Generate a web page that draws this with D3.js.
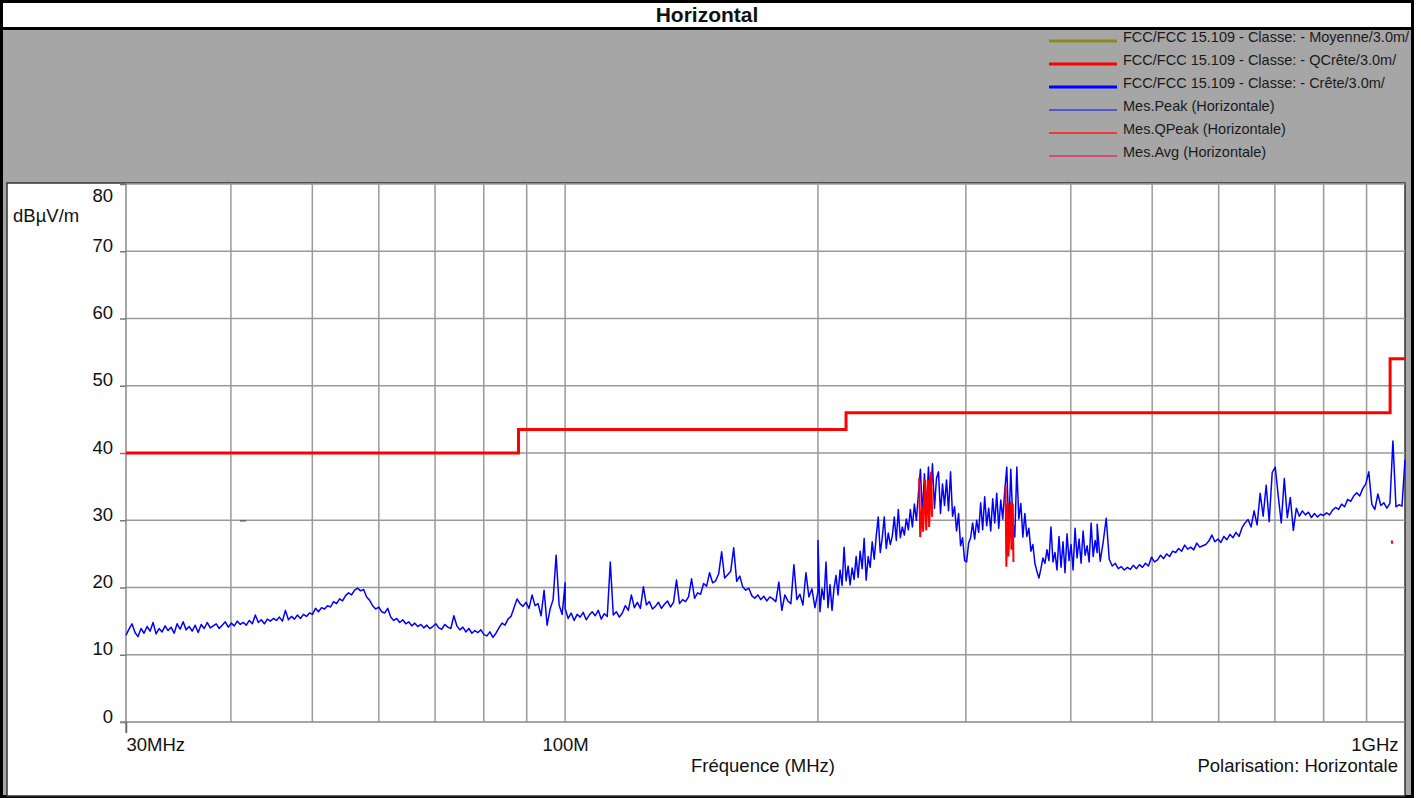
<!DOCTYPE html>
<html>
<head>
<meta charset="utf-8">
<script src="https://cdn.jsdelivr.net/npm/d3@7/dist/d3.min.js"></script>
<style>
  html, body { margin: 0; padding: 0; background: #ffffff; }
  svg { display: block; }
  text { font-family: "Liberation Sans", Arial, sans-serif; fill: #111; }
</style>
</head>
<body>
<svg id="chart" width="1421" height="798"></svg>
<script>
// ---- Data ----------------------------------------------------------------
const chartTitle = "Horizontal";
const yUnit = "dBµV/m";
const xTitle = "Fréquence (MHz)";
const polarisationNote = "Polarisation: Horizontale";

const levelTicks = [0, 10, 20, 30, 40, 50, 60, 70, 80];
const freqGrid = [40, 50, 60, 70, 80, 90, 100, 200, 300, 400, 500, 600, 700, 800, 900];
const freqTicks = [30, 100, 1000];
const freqTickLabels = ["30MHz", "100M", "1GHz"];

// FCC 15.109 quasi-peak limit at 3 m (dBµV/m)
const limitFreq  = [30, 88, 88, 216, 216, 960, 960, 1000];
const limitLevel = [40, 40, 43.5, 43.5, 46, 46, 54, 54];

// Peak sweep 30–100 MHz (dBµV/m), log-spaced sweep points
const peakBand30to100 = [
  12.9,13.8,14.6,13.3,12.7,13.9,13.2,14.2,13.5,14.8,
  13.1,13.9,13.4,14.3,13.6,14.1,13.2,14.6,13.8,14.9,
  13.7,14.2,13.5,14.4,13.3,14.5,13.9,14.8,14.0,14.3,
  14.6,13.9,14.4,14.9,14.1,14.7,14.3,15.0,14.5,14.8,
  14.4,15.1,14.6,15.9,14.8,15.2,14.6,15.3,15.0,15.4,
  15.1,15.6,15.0,16.6,15.2,15.7,15.3,15.9,15.4,16.0,
  15.7,16.2,16.0,16.9,16.4,17.0,16.8,17.3,17.1,17.9,
  17.6,18.3,18.0,18.8,19.2,18.9,19.6,19.9,19.5,19.7,
  18.6,18.1,17.3,16.8,17.1,16.4,16.2,16.9,15.6,15.1,
  15.4,14.8,15.2,14.6,14.9,14.3,14.7,14.2,14.5,14.0,
  14.4,13.9,14.2,14.6,14.0,13.8,14.5,14.1,13.9,15.8,
  14.3,13.7,14.1,13.4,13.9,13.2,13.6,13.3,13.7,13.0,
  12.8,13.4,12.6,13.2,14.0,14.7,14.4,15.3,15.7,17.0,
  18.3,17.6,17.2,17.8,16.9,18.9,17.3,17.6,15.8,19.6,
  14.4,16.8,18.2,24.8,17.4,16.0,20.7
];

// Peak sweep 100–200 MHz
const peakBand100to200 = [
  16.9,15.4,16.2,15.1,16.0,15.6,16.3,15.2,15.9,16.4,
  15.8,16.6,15.3,16.1,15.7,23.8,15.9,16.4,15.6,16.2,
  17.3,16.6,18.9,17.0,17.8,16.9,20.1,17.4,17.9,16.8,
  17.2,17.8,16.9,17.5,18.0,17.1,17.8,21.1,17.6,18.2,
  17.9,18.6,21.3,18.4,19.2,19.0,20.6,20.2,22.2,20.7,
  21.0,22.0,25.3,21.4,21.9,22.4,25.9,20.9,21.7,20.1,
  19.6,19.9,18.8,18.4,18.9,18.2,18.7,18.0,18.6,18.3,
  17.9,20.8,16.6,18.9,18.0,17.6,23.4,18.2,19.0,17.4,
  22.2,18.6,19.8,17.0,19.4
];

// Peak sweep 200–430 MHz (finer step)
const peakBand200to430 = [
  27.0,16.4,19.8,18.2,23.8,17.0,20.4,16.6,19.9,21.8,
  18.9,22.6,20.3,26.0,21.0,23.2,20.4,22.9,21.2,24.6,
  21.5,25.4,22.8,27.3,21.1,24.6,23.0,26.8,24.2,27.6,
  30.5,25.2,27.4,30.5,25.8,28.1,26.4,27.6,30.5,27.0,
  31.6,27.4,29.0,27.8,30.2,28.6,31.6,29.0,32.4,30.0,
  33.9,37.6,30.8,36.9,31.5,37.9,32.6,38.4,31.8,36.2,
  37.2,31.0,35.4,32.2,36.0,31.4,37.2,30.6,32.0,28.4,
  31.0,26.2,27.4,24.0,23.8,26.6,27.4,29.6,27.2,30.0,
  28.2,32.6,28.6,33.5,29.2,31.8,28.4,33.2,29.6,34.0,
  28.8,33.0,30.2,34.4,37.9,28.4,37.6,30.0,27.5,37.9,
  30.2,32.5,27.5,31.0,27.6,28.8,25.4,26.4,23.6,22.4,
  21.4,22.8,24.4,23.6,25.6,24.0,29.0,23.8,25.2,22.6,
  27.6,23.0,26.8,22.2,28.0,24.0,26.4,22.6,28.8,24.4,
  27.2,23.6,28.4,24.8,26.2,23.8,29.6,24.6,27.0,25.2
];

// Peak sweep 430–1000 MHz
const peakBand430to1000 = [
  29.4,23.9,26.8,30.3,24.2,23.2,
  23.6,22.8,23.1,22.6,23.0,22.7,23.3,22.8,23.4,23.0,
  23.6,23.2,24.5,23.8,24.1,24.8,24.3,25.0,24.6,25.4,
  25.2,25.8,25.4,26.3,25.7,26.0,25.6,26.6,26.0,26.2,
  26.4,26.9,27.8,26.8,27.2,26.7,27.6,27.1,27.9,27.4,
  28.2,27.6,28.9,29.6,30.1,29.0,31.4,29.3,34.0,30.6,
  35.2,29.8,37.1,37.9,33.6,29.6,36.2,30.4,33.4,28.5,
  31.8,30.6,31.4,30.8,31.2,30.4,31.0,30.5,30.9,30.7,
  31.1,30.8,31.5,31.9,31.6,32.4,32.0,33.1,32.8,33.6,
  34.1,33.6,34.7,35.4,37.2,32.4,31.6,33.9,32.2,32.6,
  31.8,32.5,41.8,32.0,32.3,32.1,39.0
];

// Quasi-peak measurements (null separates groups)
const qpeakFreq  = [264.0, 264.7, 266.1, 266.8, 268.3, 269.1, 270.5, 271.3, 272.8, 273.5, null,
                    334.5, 335.2, 336.5, 337.1, 339.3, 339.9, 341.2, 341.8, null,
                    964.0, 966.0];
const qpeakLevel = [36.3, 27.5, 32.0, 28.3, 36.0, 28.5, 36.0, 29.0, 37.2, 30.5, null,
                    35.2, 23.1, 32.5, 24.6, 32.8, 25.6, 32.5, 23.8, null,
                    27.0, 26.5];

// Short trace fragment near 41 MHz
const stubFreq  = [41.0, 41.7];
const stubLevel = [29.9, 29.9];

const legendLabels = [
  "FCC/FCC 15.109 - Classe: - Moyenne/3.0m/",
  "FCC/FCC 15.109 - Classe: - QCrête/3.0m/",
  "FCC/FCC 15.109 - Classe: - Crête/3.0m/",
  "Mes.Peak (Horizontale)",
  "Mes.QPeak (Horizontale)",
  "Mes.Avg (Horizontale)"
];
const legendColors = ["#8a8a1e", "#ff0000", "#0000ff", "#3a3ad8", "#ff1a1a", "#d8307a"];
const legendWidths = [3, 3, 3, 1.5, 1.5, 1.5];

// ---- Layout --------------------------------------------------------------
const W = 1421, H = 798;
const panel = { left: 7, top: 183, right: 1405, bottom: 796 };
const plot = { left: 126, right: 1405, top: 184, bottom: 722 };
const labelFont = "18.5px";

const svg = d3.select("#chart");

const x = d3.scaleLog().domain([30, 1000]).range([plot.left, plot.right]);
const y = d3.scaleLinear().domain([0, 80]).range([plot.bottom, plot.top]);

// page background and frame
svg.append("rect").attr("x", 0).attr("y", 0).attr("width", W).attr("height", H).attr("fill", "#ffffff");
svg.append("rect").attr("x", 2).attr("y", 29).attr("width", 1411).attr("height", 768).attr("fill", "#a6a6a6");
svg.append("rect").attr("x", 1.5).attr("y", 1.5).attr("width", 1411).attr("height", 795)
  .attr("fill", "none").attr("stroke", "#000").attr("stroke-width", 3);
svg.append("line").attr("x1", 1).attr("x2", 1413).attr("y1", 28.5).attr("y2", 28.5)
  .attr("stroke", "#000").attr("stroke-width", 3);

// title
svg.append("text").attr("x", 707).attr("y", 22).attr("text-anchor", "middle")
  .style("font-size", "21px").style("font-weight", "bold").text(chartTitle);

// plot panel
svg.append("rect").attr("x", panel.left).attr("y", panel.top)
  .attr("width", panel.right - panel.left).attr("height", panel.bottom - panel.top)
  .attr("fill", "#ffffff").attr("stroke", "#333").attr("stroke-width", 1.5);

// legend
const legend = svg.append("g").attr("class", "legend");
legendLabels.forEach((lab, i) => {
  const by = 42 + i * 23;
  legend.append("line").attr("x1", 1049).attr("x2", 1117)
    .attr("y1", by - 1).attr("y2", by - 1)
    .attr("stroke", legendColors[i]).attr("stroke-width", legendWidths[i]);
  legend.append("text").attr("x", 1123).attr("y", by)
    .style("font-size", "14.5px").style("fill", "#1a1a1a").text(lab);
});

// grid
const grid = svg.append("g").attr("class", "grid");
grid.selectAll("line.h").data(levelTicks.filter(d => d > 0)).join("line")
  .attr("x1", plot.left).attr("x2", plot.right)
  .attr("y1", d => y(d)).attr("y2", d => y(d))
  .attr("stroke", "#9a9a9a").attr("stroke-width", 1.5);
grid.selectAll("line.v").data(freqGrid).join("line")
  .attr("x1", d => x(d)).attr("x2", d => x(d))
  .attr("y1", panel.top).attr("y2", plot.bottom)
  .attr("stroke", "#9a9a9a").attr("stroke-width", 1.5);

// y axis
const yAxis = svg.append("g").attr("transform", `translate(${plot.left},0)`)
  .call(d3.axisLeft(y).tickValues(levelTicks).tickSize(6).tickPadding(7).tickFormat(d3.format("d")));
yAxis.select(".domain").attr("stroke", "#888").attr("stroke-width", 1.5).attr("d", `M0,${panel.top}V${plot.bottom + 11}`);
yAxis.selectAll(".tick line").attr("stroke", "#777").attr("stroke-width", 1.5);
yAxis.selectAll(".tick text")
  .style("font-size", labelFont).style("font-family", '"Liberation Sans", Arial, sans-serif').attr("fill", "#111")
  .attr("dy", d => d === 80 ? "17px" : "0px");

// x axis
const xAxis = svg.append("g").attr("transform", `translate(0,${plot.bottom})`)
  .call(d3.axisBottom(x).tickValues(freqTicks).tickSize(11).tickPadding(5)
    .tickFormat((d, i) => freqTickLabels[i]));
xAxis.select(".domain").attr("stroke", "#888").attr("stroke-width", 1.6).attr("d", `M${plot.left - 6},0H${plot.right}`);
xAxis.selectAll(".tick line").attr("stroke", d => d === 30 ? "#666" : "none").attr("stroke-width", 1.5);
xAxis.selectAll(".tick text")
  .style("font-size", labelFont).style("font-family", '"Liberation Sans", Arial, sans-serif').attr("fill", "#111")
  .attr("text-anchor", d => d === 30 ? "start" : (d === 1000 ? "end" : "middle"))
  .attr("dx", d => d === 1000 ? "-7px" : "0px");

// y unit and axis titles
svg.append("text").attr("x", 13).attr("y", 222).style("font-size", labelFont).text(yUnit);
svg.append("text").attr("x", 763).attr("y", 772).attr("text-anchor", "middle").style("font-size", labelFont).text(xTitle);
svg.append("text").attr("x", 1398).attr("y", 772).attr("text-anchor", "end").style("font-size", labelFont).text(polarisationNote);

// ---- Traces ----------------------------------------------------------------
svg.append("clipPath").attr("id", "plotClip").append("rect")
  .attr("x", panel.left).attr("y", panel.top).attr("width", panel.right - panel.left + 1).attr("height", plot.bottom - panel.top);

// sweep points are spaced evenly in log frequency between band edges
function sweep(f0, f1, values) {
  const n = values.length;
  return values.map((v, i) => ({ f: f0 * Math.pow(f1 / f0, i / (n - 1)), v }));
}
const peakPoints = [].concat(
  sweep(30, 100, peakBand30to100),
  sweep(100, 200, peakBand100to200),
  sweep(200, 430, peakBand200to430),
  sweep(430, 1000, peakBand430to1000)
);

const line = d3.line()
  .defined(d => d.f != null && d.v != null)
  .x(d => x(d.f)).y(d => y(d.v));

const traces = svg.append("g").attr("clip-path", "url(#plotClip)");

traces.append("path").datum(limitFreq.map((f, i) => ({ f, v: limitLevel[i] })))
  .attr("d", line).attr("fill", "none").attr("stroke", "#ff0000").attr("stroke-width", 3);

traces.append("path").datum(peakPoints)
  .attr("d", line).attr("fill", "none").attr("stroke", "#0000ff").attr("stroke-width", 1.5)
  .attr("stroke-linejoin", "round");

traces.append("path").datum(qpeakFreq.map((f, i) => ({ f, v: qpeakLevel[i] })))
  .attr("d", line).attr("fill", "none").attr("stroke", "#ff0000").attr("stroke-width", 2);

traces.append("path").datum(stubFreq.map((f, i) => ({ f, v: stubLevel[i] })))
  .attr("d", line).attr("fill", "none").attr("stroke", "#555").attr("stroke-width", 1.2);
</script>
</body>
</html>
